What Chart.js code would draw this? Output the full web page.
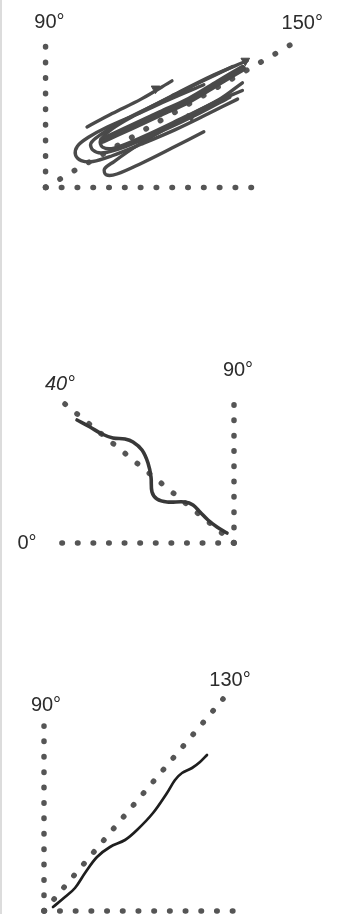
<!DOCTYPE html>
<html>
<head>
<meta charset="utf-8">
<script src="https://cdn.jsdelivr.net/npm/chart.js@4.4.1/dist/chart.umd.min.js"></script>
<style>
  html, body { margin: 0; padding: 0; background: #fff; }
  #wrap { position: relative; width: 342px; height: 914px; overflow: hidden; }
  #wrap:before { content: ''; position: absolute; left: 0; top: 0; width: 2px; height: 914px; background: #dcdcdc; z-index: 2; }
  canvas { display: block; }
</style>
</head>
<body>
<div id="wrap">
  <canvas id="c1" width="342" height="300"></canvas>
  <canvas id="c2" width="342" height="300"></canvas>
  <canvas id="c3" width="342" height="314"></canvas>
</div>
<script>
// units: figure units from the corner of each panel's two dotted axes (y up)

// --- panel 1 : 90° .. 150°
const p1Vertical = [[0, 0], [0, 156]];
const p1Horizontal = [[0, 0], [221, 0]];
const p1Diagonal = [[0, 0], [258, 151]];
const p1UpperStroke = [[43, 63], [69, 77], [99, 92], [131, 111]];
const p1OuterLoop = [[164, 107], [129, 92], [94, 76], [64, 63], [44, 52], [33, 43], [31, 34], [37, 28], [49, 27], [69, 33], [99, 45], [134, 60], [169, 77], [199, 92]];
const p1InnerLoop = [[194, 126], [159, 109], [119, 89], [79, 69], [57, 55], [47, 46], [49, 39], [59, 36], [84, 43], [119, 58], [159, 77], [191, 94]];
const p1SecondLoop = [[209, 132], [174, 117], [134, 97], [94, 76], [69, 61], [57, 49], [59, 42], [71, 41], [99, 52], [139, 71], [179, 91], [204, 109]];
const p1LowLoop = [[204, 101], [174, 88], [149, 75], [124, 61], [94, 43], [71, 27], [61, 19], [63, 13], [74, 14], [99, 25], [131, 41], [164, 58]];
const p1Band = [[59, 49], [89, 63], [119, 77], [149, 91], [179, 109], [204, 124]];
const p1Arrows = [[114, 103], [207, 132], [151, 74]];

// --- panel 2 : 0° .. 90°, diagonal to 40°
const p2Vertical = [[0, 0], [0, 153]];
const p2Horizontal = [[0, 0], [-187, 0]];
const p2Diagonal = [[0, 0], [-169, 139]];
const p2Curve = [[-157, 123], [-144, 116], [-132, 109], [-121, 105], [-109, 104], [-101, 101], [-92, 93], [-86, 80], [-83, 66], [-82, 51], [-77, 44], [-67, 41], [-49, 41], [-41, 38], [-34, 31], [-26, 23], [-17, 16], [-7, 10]];

// --- panel 3 : 90° .. 130°
const p3Vertical = [[0, 0], [0, 185]];
const p3Horizontal = [[0, 0], [204, 0]];
const p3Diagonal = [[0, 0], [179, 212]];
const p3Curve = [[9, 4], [21, 14], [31, 23], [41, 38], [53, 54], [66, 64], [81, 71], [93, 81], [109, 98], [123, 118], [131, 131], [138, 138], [148, 143], [156, 149], [163, 156]];

const dotColor = '#555';

const angleLabels = {
  id: 'angleLabels',
  afterDatasetsDraw(chart, args, opts) {
    const { ctx, scales } = chart;
    ctx.save();
    ctx.fillStyle = '#2c2c2c';
    ctx.textAlign = 'center';
    ctx.textBaseline = 'middle';
    (opts.items || []).forEach(it => {
      ctx.font = (it.italic ? 'italic ' : '') + '20px "Liberation Sans", Arial, sans-serif';
      ctx.fillText(it.text, scales.x.getPixelForValue(it.at[0]), scales.y.getPixelForValue(it.at[1]));
    });
    ctx.restore();
  }
};

function dotted(data, gap) {
  return {
    data, showLine: true, order: 2, pointRadius: 0, tension: 0,
    borderColor: dotColor, borderWidth: 5.5,
    borderDash: [0.5, gap - 0.5], borderCapStyle: 'round'
  };
}
function stroke(data, color, width) {
  return {
    data, showLine: true, order: 0, pointRadius: 0, tension: 0.35,
    borderColor: color, borderWidth: width, borderCapStyle: 'round', borderJoinStyle: 'round'
  };
}

function makePanel(id, xRange, yRange, datasets, labels) {
  new Chart(document.getElementById(id), {
    type: 'scatter',
    data: { datasets },
    options: {
      responsive: false,
      animation: false,
      layout: { padding: 0 },
      scales: {
        x: { type: 'linear', min: xRange[0], max: xRange[1], display: false },
        y: { type: 'linear', min: yRange[0], max: yRange[1], display: false }
      },
      plugins: {
        legend: { display: false },
        tooltip: { enabled: false },
        angleLabels: { items: labels }
      }
    },
    plugins: [angleLabels]
  });
}

const c1 = '#4a4a4a';
makePanel('c1', [-41, 301], [-111, 189], [
  stroke(p1UpperStroke, c1, 3.4),
  stroke(p1OuterLoop, c1, 3.4),
  stroke(p1InnerLoop, c1, 3.4),
  stroke(p1SecondLoop, c1, 3.4),
  stroke(p1LowLoop, c1, 3.4),
  stroke(p1Band, c1, 7),
  { data: p1Arrows, order: 0, pointStyle: 'triangle', pointRadius: 5, rotation: 60,
    backgroundColor: c1, borderColor: c1, borderWidth: 1 },
  dotted(p1Vertical, 15.6),
  dotted(p1Horizontal, 15.8),
  dotted(p1Diagonal, 16.6)
], [
  { text: '90°', at: [4, 172] },
  { text: '150°', at: [266, 171] }
]);

makePanel('c2', [-234, 108], [-57, 243], [
  stroke(p2Curve, '#383838', 3.6),
  dotted(p2Vertical, 15.3),
  dotted(p2Horizontal, 15.6),
  dotted(p2Diagonal, 15.6)
], [
  { text: '40°', at: [-174, 159], italic: true },
  { text: '90°', at: [4, 173] },
  { text: '0°', at: [-207, 0] }
]);

makePanel('c3', [-44, 298], [-3, 311], [
  stroke(p3Curve, '#1e1e1e', 2.7),
  dotted(p3Vertical, 15.4),
  dotted(p3Horizontal, 15.7),
  dotted(p3Diagonal, 15.4)
], [
  { text: '90°', at: [2, 206] },
  { text: '130°', at: [186, 231] }
]);
</script>
</body>
</html>
